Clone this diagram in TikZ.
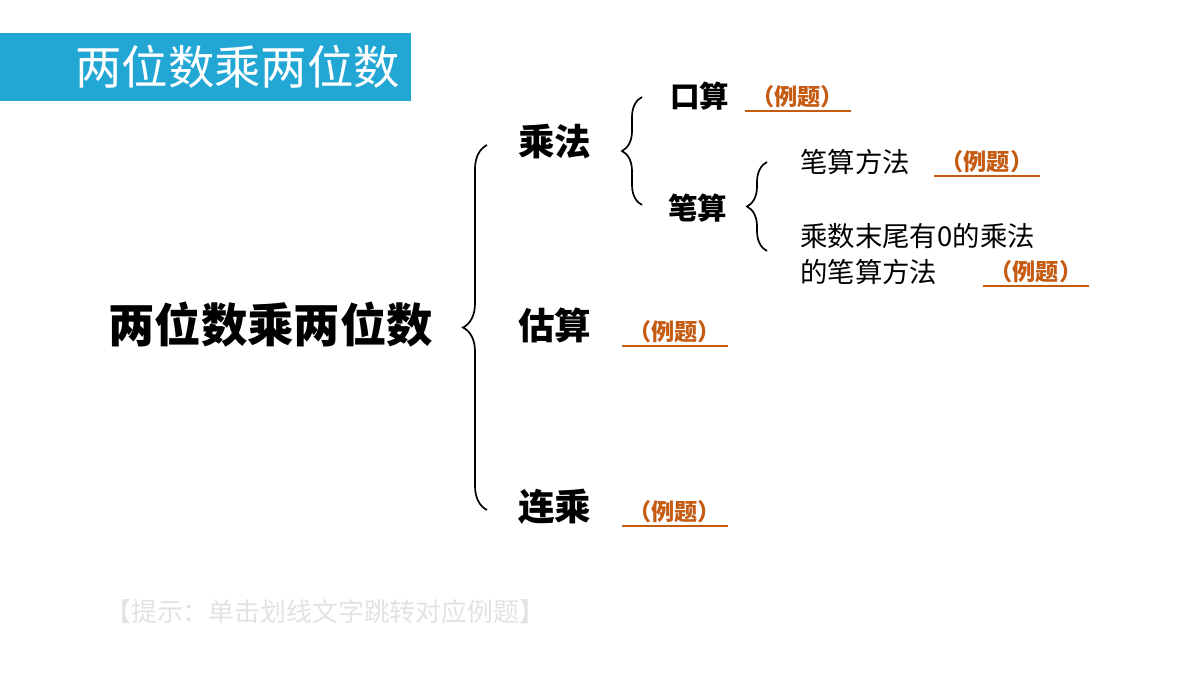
\documentclass[tikz,border=0pt]{standalone}
\usepackage{fontspec}
\setmainfont{Noto Sans CJK SC}
\usetikzlibrary{positioning,decorations.pathreplacing}
\definecolor{titleblue}{HTML}{22A6D4}
\definecolor{exbrown}{HTML}{C55A11}
\definecolor{hintgray}{HTML}{E2E2E2}
\newcommand{\fs}[2][1.2]{\fontsize{#2}{#1\dimexpr#2pt\relax}\selectfont}

\begin{document}
\begin{tikzpicture}[x=0.025cm,y=-0.025cm,
  main/.style={anchor=west, inner sep=0, font=\fs{33}\bfseries},
  lvl/.style={anchor=west, inner sep=0, font=\fs{26}\bfseries},
  sub/.style={anchor=west, inner sep=0, font=\fs{21}\bfseries},
  leaf/.style={anchor=west, inner sep=0, font=\fs[1.3]{19.5}, align=left},
  ex/.style={anchor=south west, inner sep=0, minimum width=105*0.025cm, minimum height=28*0.025cm, font=\fs{16.5}\bfseries, text=exbrown},
  exline/.style={draw=exbrown, line width=0.8pt},
  brace/.style={decorate, decoration={brace, amplitude=#1}, line width=1.2pt}
]
\useasboundingbox (0,0) rectangle (1200,675);

% Title bar
\fill[titleblue] (0,33) rectangle (411,101);
\node[anchor=west, inner sep=0, text=white, font=\fs{33}] (title) at (75,67) {两位数乘两位数};

% Root
\node[main] (root) at (108,325) {两位数乘两位数};
\draw[brace=24*0.025cm] (487,510) -- (487,145);

% Level 1
\node[lvl] (mul) at (518,142) {乘法};
\node[lvl] (est) at (518,325) {估算};
\node[lvl] (chain) at (518,507) {连乘};
\draw[brace=20*0.025cm] (642,205) -- (642,97);

% Level 2
\node[sub] (oral) at (670,96) {口算};
\node[sub] (written) at (668,208) {笔算};
\draw[brace=20*0.025cm] (767,251) -- (767,162);

% Level 3
\node[leaf] (method) at (800,162) {笔算方法};
\node[leaf] (zero) at (800,254) {乘数末尾有0的乘法\\的笔算方法};

% Examples
\node[ex] (e1) at (745,111) {（例题）};
\node[ex] (e2) at (934,176) {（例题）};
\node[ex] (e3) at (983,286) {（例题）};
\node[ex] (e4) at (622,346) {（例题）};
\node[ex] (e5) at (622,526) {（例题）};
\foreach \e in {e1,e2,e3,e4,e5}
  \draw[exline] (\e.south west) -- (\e.south east);

% Hint
\node[anchor=west, inner sep=0, text=hintgray, font=\fs{18.4}] (hint) at (105,612) {【提示：单击划线文字跳转对应例题】};
\end{tikzpicture}
\end{document}
